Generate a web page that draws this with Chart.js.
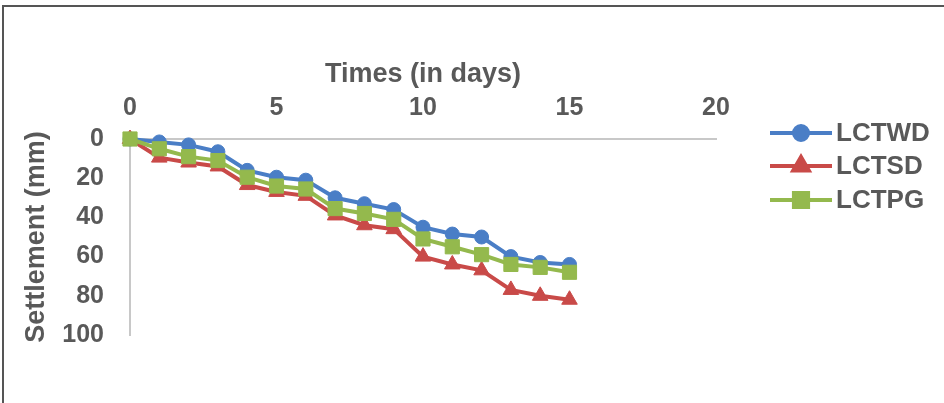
<!DOCTYPE html>
<html>
<head>
<meta charset="utf-8">
<script src="https://cdn.jsdelivr.net/npm/chart.js@4.4.1/dist/chart.umd.min.js"></script>
<style>
	html, body { margin: 0; padding: 0; background: #fff; }
	#wrap { position: relative; width: 944px; height: 403px; }
	#frame {
		position: absolute; left: 2px; top: 5px; right: 0; bottom: 0;
		border-left: 2px solid #555; border-top: 2px solid #555;
		pointer-events: none;
	}
</style>
</head>
<body>
<div id="wrap">
	<canvas id="chart" width="944" height="403"></canvas>
	<div id="frame"></div>
</div>
<script>

// settlement readings, one per day
var days = [0, 1, 2, 3, 4, 5, 6, 7, 8, 9, 10, 11, 12, 13, 14, 15];
var lctwd = [0, 1.5, 3, 6.5, 16, 19.5, 21, 30, 33, 36, 45, 48.5, 50, 60, 63, 64];
var lctsd = [0, 9.5, 12, 14, 23.5, 27, 29, 39, 44, 46, 60, 64, 67, 77, 80, 82];
var lctpg = [0, 5, 9, 11, 19.5, 24, 25.5, 35.5, 38, 41, 51, 55, 59, 64, 65.5, 68];

var xTicks = [0, 5, 10, 15, 20];
var yTicks = [0, 20, 40, 60, 80, 100];

var textGrey = '#595959';
var fontFamily = '"Liberation Sans", Arial, sans-serif';

function toPoints(values){
	return days.map(function(d, i){ return {x: d, y: values[i]}; });
}

function series(label, values, color, style, radius, order){
	return {
		label: label,
		data: toPoints(values),
		borderColor: color,
		backgroundColor: color,
		borderWidth: 4,
		pointStyle: style,
		pointRadius: radius,
		pointBorderWidth: 1,
		pointBackgroundColor: color,
		pointBorderColor: color,
		tension: 0,
		clip: false,
		order: order
	};
}

var datasets = [
	series('LCTWD', lctwd, '#4A7EC6', 'circle', 7, 2),
	series('LCTSD', lctsd, '#C94A48', 'triangle', 9, 1),
	series('LCTPG', lctpg, '#94B94D', 'rect', 10, 0)
];

// legend on the right: line sample with the marker in the middle
var sideLegend = {
	id: 'sideLegend',
	afterDraw: function(chart){
		var ctx = chart.ctx;
		var rows = [133, 166, 200];
		ctx.save();
		chart.data.datasets.forEach(function(ds, i){
			var y = rows[i];
			ctx.strokeStyle = ds.borderColor;
			ctx.lineWidth = 4;
			ctx.beginPath();
			ctx.moveTo(770, y);
			ctx.lineTo(832, y);
			ctx.stroke();
			ctx.fillStyle = ds.backgroundColor;
			Chart.helpers.drawPoint(ctx, {
				pointStyle: ds.pointStyle,
				radius: ds.pointRadius,
				rotation: 0,
				borderWidth: 1
			}, 801, y);
			ctx.fillStyle = textGrey;
			ctx.font = 'bold 26px ' + fontFamily;
			ctx.textAlign = 'left';
			ctx.textBaseline = 'middle';
			ctx.fillText(ds.label, 836, y + 1);
		});
		ctx.restore();
	}
};

new Chart(document.getElementById('chart'), {
	type: 'line',
	data: { datasets: datasets },
	plugins: [sideLegend],
	options: {
		responsive: false,
		animation: false,
		layout: { padding: { left: 0, top: 0, right: 228, bottom: 68 } },
		plugins: {
			legend: { display: false },
			tooltip: { enabled: false }
		},
		scales: {
			x: {
				type: 'linear',
				position: 'top',
				min: 0,
				max: 20,
				afterFit: function(scale){ scale.height = 139; },
				afterBuildTicks: function(scale){
					scale.ticks = xTicks.map(function(v){ return {value: v}; });
				},
				grid: { display: false, drawTicks: false },
				border: { display: true, color: '#c8c8c8', width: 2 },
				ticks: {
					padding: 16,
					color: textGrey,
					font: { family: fontFamily, size: 25, weight: 'bold' }
				},
				title: {
					display: true,
					text: 'Times (in days)',
					color: textGrey,
					padding: { top: 58, bottom: 0 },
					font: { family: fontFamily, size: 27, weight: 'bold' }
				}
			},
			y: {
				type: 'linear',
				reverse: true,
				min: 0,
				max: 100,
				afterFit: function(scale){ scale.width = 130; },
				afterBuildTicks: function(scale){
					scale.ticks = yTicks.map(function(v){ return {value: v}; });
				},
				grid: { display: false, drawTicks: false },
				border: { display: true, color: '#c8c8c8', width: 2 },
				ticks: {
					padding: 26,
					color: textGrey,
					font: { family: fontFamily, size: 25, weight: 'bold' }
				},
				title: {
					display: true,
					text: 'Settlement (mm)',
					color: textGrey,
					padding: { top: 20, bottom: 0 },
					font: { family: fontFamily, size: 27, weight: 'bold' }
				}
			}
		}
	}
});
</script>
</body>
</html>
